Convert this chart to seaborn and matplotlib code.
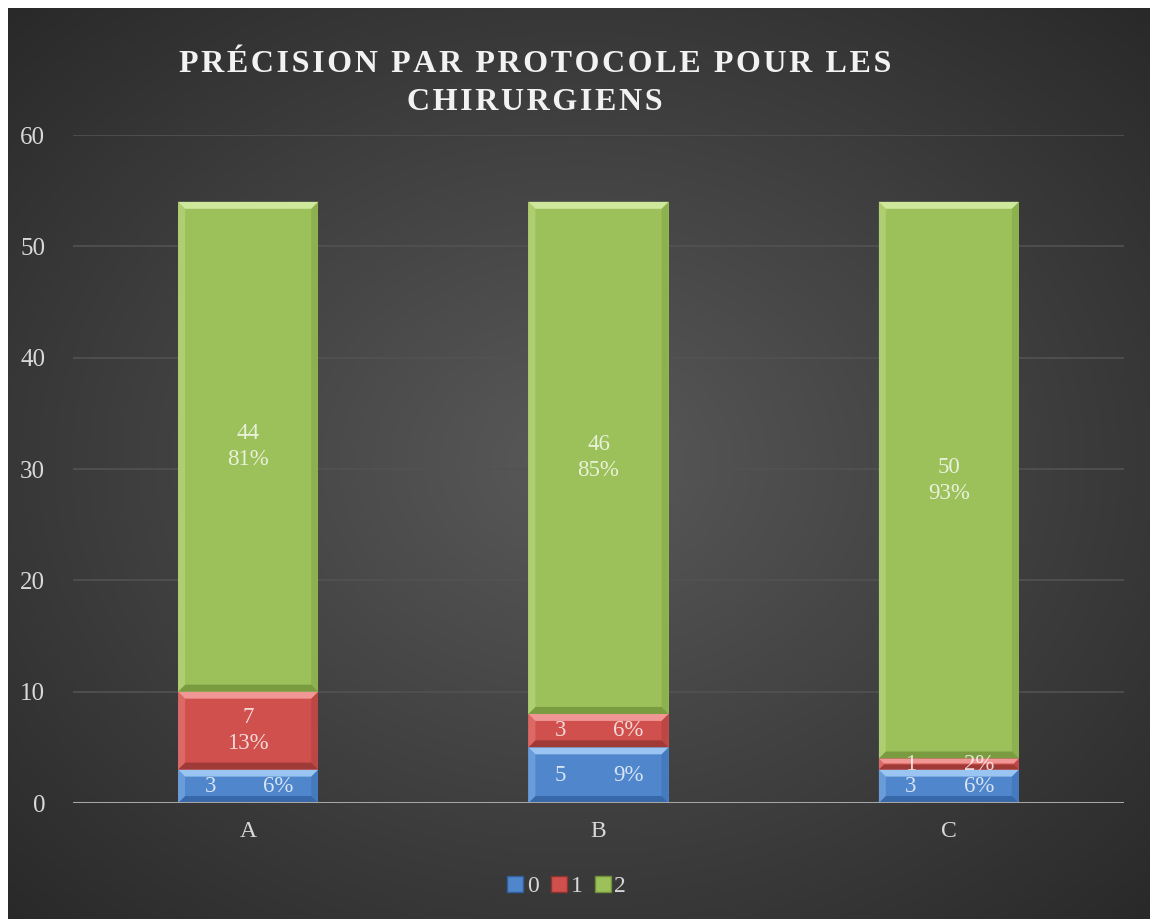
import numpy as np
import matplotlib
matplotlib.use("Agg")
import matplotlib.pyplot as plt
from matplotlib.patches import Polygon
from matplotlib.lines import Line2D
import seaborn as sns

categories = ["A", "B", "C"]
series_names = ["0", "1", "2"]
vals_0 = [3, 5, 3]
vals_1 = [7, 3, 1]
vals_2 = [44, 46, 50]
title_lines = ["PRÉCISION PAR PROTOCOLE POUR LES", "CHIRURGIENS"]
y_ticks = [0, 10, 20, 30, 40, 50, 60]

colors = ["#4f86cc", "#d0504d", "#9cc05a"]
light = ["#a8d0f8", "#f6a4a2", "#d8f0a8"]
dark = ["#2f5f9e", "#8f3330", "#6f8f38"]

sns.set_theme(style="dark")
plt.rcParams["font.family"] = ["Liberation Serif", "DejaVu Serif"]

W, H = 1150, 919
fig = plt.figure(figsize=(W / 100, H / 100), dpi=100, facecolor="white")

# background with radial gradient
bg = fig.add_axes([8 / W, 0, 1 - 8 / W, 1 - 8 / H], zorder=0)
yy, xx = np.mgrid[0:1:400j, 0:1:500j]
r = np.sqrt(((xx - 0.5) / 0.75) ** 2 + ((yy - 0.5) / 0.75) ** 2)
val = 0.35 - 0.20 * np.clip(r, 0, 1)
img = np.dstack([val, val, val])
bg.imshow(img, extent=[0, 1, 0, 1], aspect="auto", interpolation="bilinear")
bg.set_axis_off()

ax = fig.add_axes([73 / W, (H - 803) / H, (1124 - 73) / W, (803 - 135) / H], zorder=1)
ax.set_facecolor("none")

bottoms = np.zeros(3)
all_vals = [vals_0, vals_1, vals_2]
totals = np.sum(all_vals, axis=0)
for i, vals in enumerate(all_vals):
    sns.barplot(x=categories, y=vals, bottom=bottoms.copy(), color=colors[i],
                width=0.4, ax=ax, saturation=1, edgecolor="none", linewidth=0,
                zorder=3)
    bottoms = bottoms + np.array(vals)

ax.set_ylim(0, 60)
ax.set_xlim(-0.5, 2.5)
ax.set_yticks(y_ticks)
ax.grid(axis="y", color="#525252", linewidth=1.2, zorder=0)
ax.grid(axis="x", visible=False)
for s in ax.spines.values():
    s.set_visible(False)
ax.axhline(0, color="#a6a6a6", linewidth=2.2, zorder=4)
ax.tick_params(axis="y", colors="#d9d9d9", labelsize=18, length=0, pad=20)
ax.tick_params(axis="x", colors="#d9d9d9", labelsize=17, length=0, pad=13)

# bevel effect & labels
px_x = 3.0 / 1051
px_y = 60.0 / 668
bev = 7
patches = list(ax.patches)
for idx, p in enumerate(patches):
    si = idx // 3
    ci = idx % 3
    x0, w = p.get_x(), p.get_width()
    y0, h = p.get_y(), p.get_height()
    x1, y1 = x0 + w, y0 + h
    by = min(bev * px_y, h / 2.2)
    bx = bev * px_x * (by / (bev * px_y))
    top = Polygon([[x0, y1], [x1, y1], [x1 - bx, y1 - by], [x0 + bx, y1 - by]],
                  closed=True, facecolor=light[si], edgecolor="none", alpha=0.85, zorder=3.5)
    bot = Polygon([[x0, y0], [x1, y0], [x1 - bx, y0 + by], [x0 + bx, y0 + by]],
                  closed=True, facecolor=dark[si], edgecolor="none", alpha=0.75, zorder=3.5)
    lft = Polygon([[x0, y0], [x0, y1], [x0 + bx, y1 - by], [x0 + bx, y0 + by]],
                  closed=True, facecolor=light[si], edgecolor="none", alpha=0.3, zorder=3.5)
    rgt = Polygon([[x1, y0], [x1, y1], [x1 - bx, y1 - by], [x1 - bx, y0 + by]],
                  closed=True, facecolor=dark[si], edgecolor="none", alpha=0.3, zorder=3.5)
    for pp in (top, bot, lft, rgt):
        ax.add_patch(pp)
    v = all_vals[si][ci]
    pct = round(100 * v / totals[ci])
    cx = x0 + w / 2
    cy = y0 + h / 2
    if h >= 6:
        ax.text(cx, cy, f"{v}\n{pct}%", ha="center", va="center", color="white", alpha=0.78,
                fontsize=16.5, linespacing=1.3, zorder=6)
    else:
        ax.text(cx - 0.108, cy, f"{v}", ha="center", va="center", color="white",
                alpha=0.78, fontsize=16.5, zorder=6)
        ax.text(cx + 0.086, cy, f"{pct}%", ha="center", va="center", color="white",
                alpha=0.78, fontsize=16.5, zorder=6)

hair = "\u200a"
for k, line in enumerate(title_lines):
    spaced = hair.join(line)
    fig.text(535 / W, 1 - (65 + 38 * k) / H, spaced, ha="center", va="center",
             color="#f2f2f2", fontsize=23, fontweight="bold")

handles = [Line2D([0], [0], marker="s", linestyle="none", markersize=11,
                  markerfacecolor=colors[i], markeredgecolor=dark[i])
           for i in range(3)]
leg = fig.legend(handles, series_names, loc="center", bbox_to_anchor=(566 / W, 1 - 886 / H),
                 ncol=3, frameon=False, fontsize=17, handletextpad=0.1, columnspacing=0.45,
                 handlelength=0.8, labelcolor="#d9d9d9")

fig.savefig("out.png", dpi=100, facecolor="white")
